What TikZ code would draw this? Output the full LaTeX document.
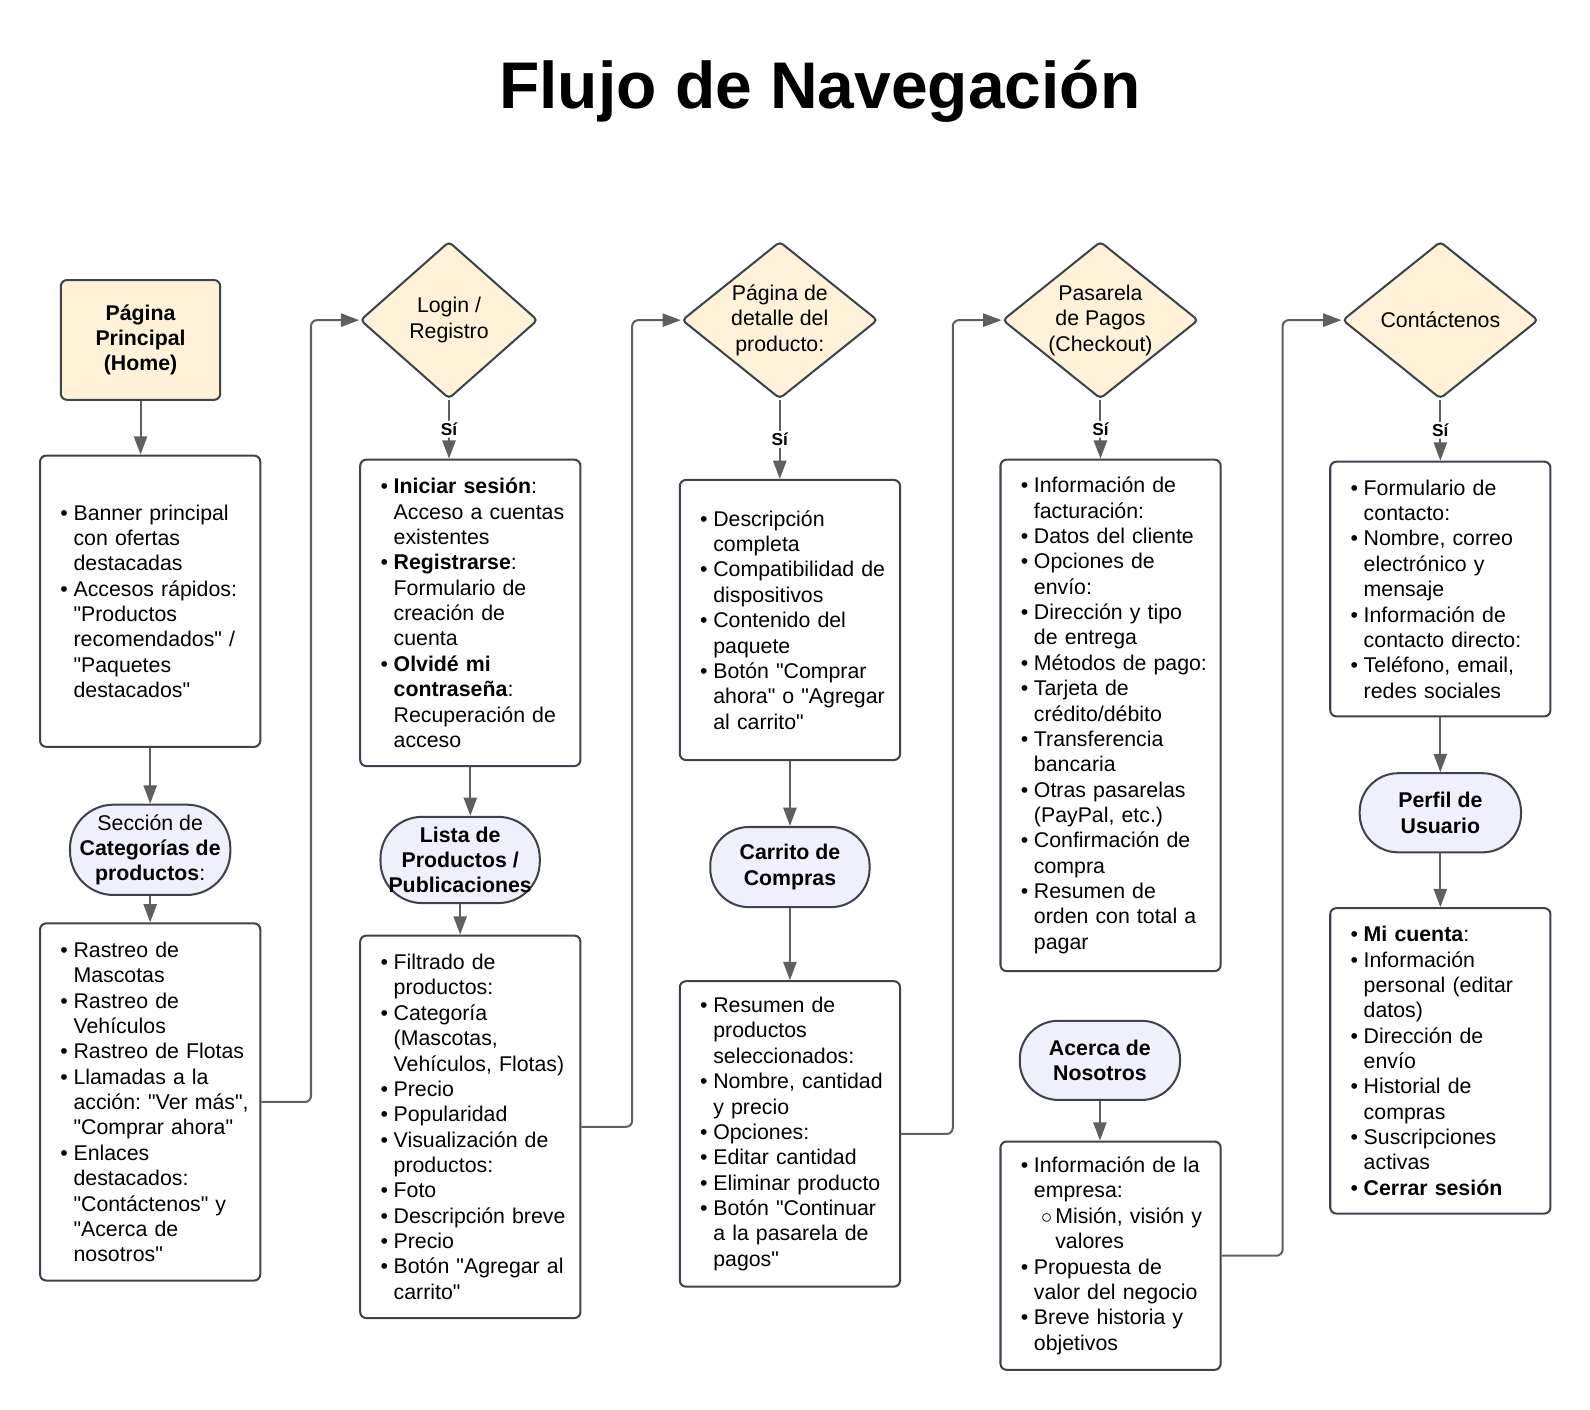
\documentclass[tikz,border=0pt]{standalone}
\usepackage{fontspec}
\newfontfamily\lib{Liberation Sans}
\usepackage{tikz}
\usetikzlibrary{shapes.geometric,arrows.meta}
\definecolor{cream}{RGB}{255,242,217}
\definecolor{lav}{RGB}{240,240,252}
\definecolor{bord}{RGB}{62,66,76}
\definecolor{conn}{RGB}{95,95,95}
\frenchspacing
\newcommand{\nl}{\newline}
\newcommand{\fitm}{\hangindent=12.5pt\hangafter=1\noindent\hbox to 12.5pt{\hspace{6pt}\textbullet\hfil}}
\newcommand{\itm}{\par\fitm}
\newcommand{\sitm}{\par\hangindent=23pt\hangafter=1\noindent\hbox to 23pt{\hspace{16pt}$\circ$\hfil}}
\tikzstyle{every node}=[font=\lib\fontsize{10.5}{12.5}\selectfont]
\tikzstyle{homebox}=[rectangle,draw=bord,line width=1pt,fill=cream,rounded corners=3pt,align=center,font=\lib\bfseries\fontsize{10.5}{12.5}\selectfont]
\tikzstyle{decis}=[diamond,draw=bord,line width=1pt,fill=cream,rounded corners=2pt,inner sep=-4pt,align=center,minimum height=77.5pt]
\tikzstyle{pill}=[rectangle,draw=bord,line width=1pt,fill=lav,align=center,inner xsep=0pt,font=\lib\bfseries\fontsize{10.5}{12.5}\selectfont]
\tikzstyle{lbox}=[rectangle,draw=bord,line width=1pt,rounded corners=3pt,align=left,inner xsep=4pt,text width=100.5pt]
\tikzstyle{flow}=[draw=conn,line width=1pt,rounded corners=3pt,-{Triangle[length=9pt,width=6.5pt]}]
\tikzstyle{yes}=[fill=white,inner sep=1pt,font=\lib\bfseries\fontsize{8.5}{10}\selectfont]

\begin{document}
\begin{tikzpicture}[x=0.5pt,y=-0.5pt]
        \useasboundingbox (0,0) rectangle (1567,1389);
        \node (title) at (808,90) {\fontsize{32.5}{39}\selectfont\bfseries Flujo de Navegación};

        % columna 1
        \node[homebox,minimum width=78.5pt,minimum height=59pt] (home) at (138.5,335) {Página\\Principal\\(Home)};
        \node[lbox,minimum height=143.5pt] (banner) at (148,592.5) {\fitm Banner principal\nl con ofertas\nl destacadas
            \itm Accesos rápidos:\nl "Productos\nl recomendados" /\nl "Paquetes\nl destacados"\par};
        \node[pill,minimum width=79pt,minimum height=44.5pt,rounded corners=21.5pt] (cats) at (148,837.5) {{\mdseries Sección de}\\Categorías de\\productos{\mdseries :}};
        \node[lbox,minimum height=176pt] (catlist) at (148,1086) {\fitm Rastreo de\nl Mascotas
            \itm Rastreo de\nl Vehículos
            \itm Rastreo de Flotas
            \itm Llamadas a la\nl acción: "Ver más",\nl "Comprar ahora"
            \itm Enlaces\nl destacados:\nl "Contáctenos" y\nl "Acerca de\nl nosotros"\par};

        % columna 2
        \node[decis,minimum width=87.5pt] (login) at (442.5,315.5) {Login /\\Registro};
        \node[lbox,minimum height=151pt] (access) at (463.5,604) {\fitm \textbf{Iniciar sesión}:\nl Acceso a cuentas\nl existentes
            \itm \textbf{Registrarse}:\nl Formulario de\nl creación de\nl cuenta
            \itm \textbf{Olvidé mi}\nl \textbf{contraseña}:\nl Recuperación de\nl acceso\par};
        \node[pill,minimum width=78.5pt,minimum height=42.5pt,rounded corners=20.5pt] (plist) at (453.5,847.5) {Lista de\\Productos /\\Publicaciones};
        \node[lbox,minimum height=188.5pt] (listing) at (463.5,1110.5) {\fitm Filtrado de\nl productos:
            \itm Categoría\nl (Mascotas,\nl Vehículos, Flotas)
            \itm Precio
            \itm Popularidad
            \itm Visualización de\nl productos:
            \itm Foto
            \itm Descripción breve
            \itm Precio
            \itm Botón "Agregar al\nl carrito"\par};

        % columna 3
        \node[decis,minimum width=96.5pt] (detail) at (768.5,315.5) {Página de\\detalle del\\producto:};
        \node[lbox,minimum height=138pt] (specs) at (778.5,611) {\fitm Descripción\nl completa
            \itm Compatibilidad de\nl dispositivos
            \itm Contenido del\nl paquete
            \itm Botón "Comprar\nl ahora" o "Agregar\nl al carrito"\par};
        \node[pill,minimum width=78.5pt,minimum height=39.5pt,rounded corners=19pt] (cart) at (778.5,854.5) {Carrito de\\Compras};
        \node[lbox,minimum height=150.5pt] (summary) at (778.5,1117.5) {\fitm Resumen de\nl productos\nl seleccionados:
            \itm Nombre, cantidad\nl y precio
            \itm Opciones:
            \itm Editar cantidad
            \itm Eliminar producto
            \itm Botón "Continuar\nl a la pasarela de\nl pagos"\par};

        % columna 4
        \node[decis,minimum width=96.5pt] (checkout) at (1084.5,315.5) {Pasarela\\de Pagos\\(Checkout)};
        \node[lbox,minimum height=252pt] (payment) at (1094.5,705) {\fitm Información de\nl facturación:
            \itm Datos del cliente
            \itm Opciones de\nl envío:
            \itm Dirección y tipo\nl de entrega
            \itm Métodos de pago:
            \itm Tarjeta de\nl crédito/débito
            \itm Transferencia\nl bancaria
            \itm Otras pasarelas\nl (PayPal, etc.)
            \itm Confirmación de\nl compra
            \itm Resumen de\nl orden con total a\nl pagar\par};
        \node[pill,minimum width=79pt,minimum height=39pt,rounded corners=19pt] (about) at (1084,1045) {Acerca de\\Nosotros};
        \node[lbox,minimum height=112.5pt] (company) at (1094.5,1237.5) {\fitm Información de la\nl empresa:
            \sitm Misión, visión y\nl valores
            \itm Propuesta de\nl valor del negocio
            \itm Breve historia y\nl objetivos\par};

        % columna 5
        \node[decis,minimum width=96.5pt] (contact) at (1419.5,315.5) {Contáctenos};
        \node[lbox,minimum height=125.5pt] (contactinfo) at (1419.5,580.5) {\fitm Formulario de\nl contacto:
            \itm Nombre, correo\nl electrónico y\nl mensaje
            \itm Información de\nl contacto directo:
            \itm Teléfono, email,\nl redes sociales\par};
        \node[pill,minimum width=79.5pt,minimum height=39pt,rounded corners=19pt] (profile) at (1419.5,801) {Perfil de\\Usuario};
        \node[lbox,minimum height=150.5pt] (account) at (1419.5,1045.5) {\fitm \textbf{Mi cuenta}:
            \itm Información\nl personal (editar\nl datos)
            \itm Dirección de\nl envío
            \itm Historial de\nl compras
            \itm Suscripciones\nl activas
            \itm \textbf{Cerrar sesión}\par};

        % conexiones
        \draw[flow] (home.south) -- (home.south |- banner.north);
        \draw[flow] (banner) -- (cats);
        \draw[flow] (cats) -- (catlist);
        \draw[flow] (catlist.east) -- ++(49,0) |- (login.west);

        \draw[flow] (login.south) -- node[yes] {Sí} (login.south |- access.north);
        \draw[flow] (access.south) -- (access.south |- plist.north);
        \draw[flow] (plist.south) -- (plist.south |- listing.north);
        \draw[flow] (listing.east) -- ++(50,0) |- (detail.west);

        \draw[flow] (detail.south) -- node[yes] {Sí} (detail.south |- specs.north);
        \draw[flow] (specs) -- (cart);
        \draw[flow] (cart) -- (summary);
        \draw[flow] (summary.east) -- ++(51,0) |- (checkout.west);

        \draw[flow] (checkout.south) -- node[yes] {Sí} (checkout.south |- payment.north);
        \draw[flow] (about.south) -- (about.south |- company.north);
        \draw[flow] (company.east) -- ++(60,0) |- (contact.west);

        \draw[flow] (contact.south) -- node[yes] {Sí} (contact.south |- contactinfo.north);
        \draw[flow] (contactinfo) -- (profile);
        \draw[flow] (profile) -- (account);
\end{tikzpicture}
\end{document}
